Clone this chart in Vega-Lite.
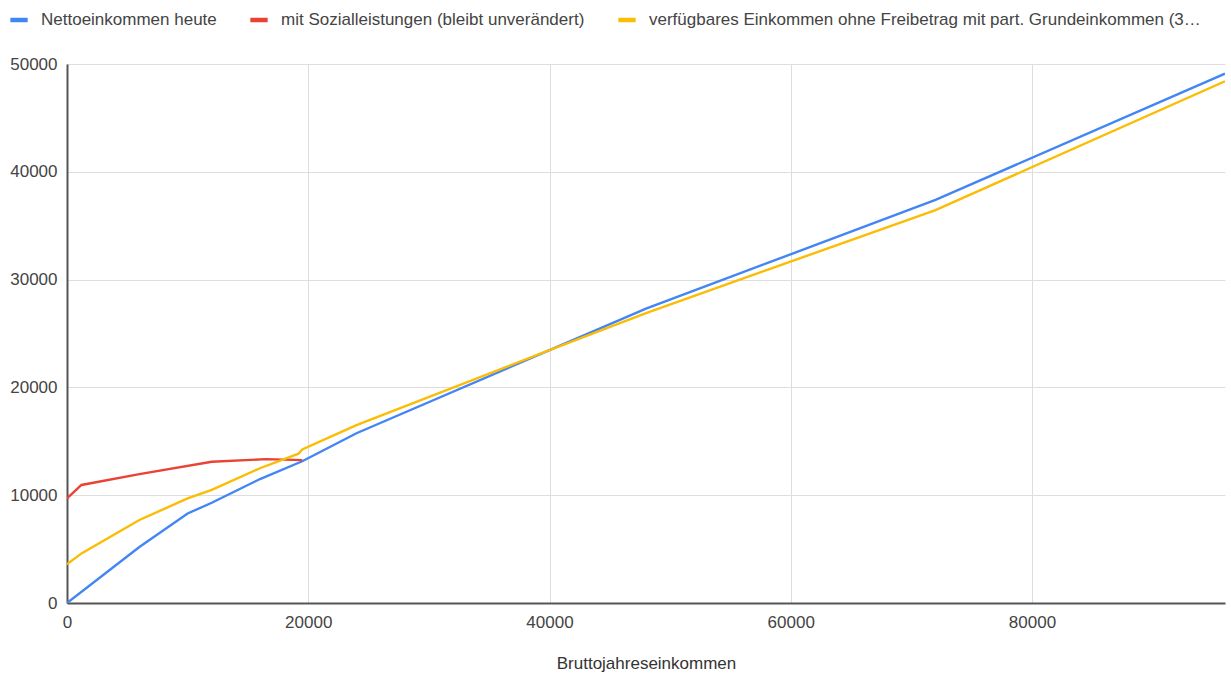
{
  "$schema": "https://vega.github.io/schema/vega-lite/v6.json",
  "autosize": "none",
  "width": 1158,
  "height": 539,
  "padding": {"left": 67, "top": 64, "right": 6, "bottom": 76},
  "background": "white",
  "config": {
    "view": {"stroke": null},
    "font": "Liberation Sans",
    "axis": {"labelFont": "Liberation Sans", "titleFont": "Liberation Sans", "labelFontSize": 17, "labelColor": "#444444", "titleColor": "#333333", "titleFontWeight": "normal", "titleFontSize": 17, "gridColor": "#dddddd", "gridWidth": 1}
  },
  "data": {
    "values": [
      {"x": 0, "y": 0, "s": "Nettoeinkommen heute"},
      {"x": 6000, "y": 5200, "s": "Nettoeinkommen heute"},
      {"x": 10000, "y": 8300, "s": "Nettoeinkommen heute"},
      {"x": 12000, "y": 9300, "s": "Nettoeinkommen heute"},
      {"x": 16000, "y": 11500, "s": "Nettoeinkommen heute"},
      {"x": 19500, "y": 13150, "s": "Nettoeinkommen heute"},
      {"x": 24000, "y": 15750, "s": "Nettoeinkommen heute"},
      {"x": 40000, "y": 23450, "s": "Nettoeinkommen heute"},
      {"x": 48000, "y": 27300, "s": "Nettoeinkommen heute"},
      {"x": 72000, "y": 37400, "s": "Nettoeinkommen heute"},
      {"x": 96000, "y": 49100, "s": "Nettoeinkommen heute"},
      {"x": 0, "y": 9700, "s": "mit Sozialleistungen (bleibt unverändert)"},
      {"x": 1200, "y": 10950, "s": "mit Sozialleistungen (bleibt unverändert)"},
      {"x": 6000, "y": 11950, "s": "mit Sozialleistungen (bleibt unverändert)"},
      {"x": 12000, "y": 13100, "s": "mit Sozialleistungen (bleibt unverändert)"},
      {"x": 16500, "y": 13350, "s": "mit Sozialleistungen (bleibt unverändert)"},
      {"x": 19500, "y": 13250, "s": "mit Sozialleistungen (bleibt unverändert)"},
      {"x": 0, "y": 3600, "s": "verfügbares Einkommen  ohne Freibetrag mit part. Grundeinkommen (3…"},
      {"x": 1200, "y": 4600, "s": "verfügbares Einkommen  ohne Freibetrag mit part. Grundeinkommen (3…"},
      {"x": 6000, "y": 7700, "s": "verfügbares Einkommen  ohne Freibetrag mit part. Grundeinkommen (3…"},
      {"x": 10000, "y": 9700, "s": "verfügbares Einkommen  ohne Freibetrag mit part. Grundeinkommen (3…"},
      {"x": 12000, "y": 10500, "s": "verfügbares Einkommen  ohne Freibetrag mit part. Grundeinkommen (3…"},
      {"x": 16000, "y": 12500, "s": "verfügbares Einkommen  ohne Freibetrag mit part. Grundeinkommen (3…"},
      {"x": 19200, "y": 13850, "s": "verfügbares Einkommen  ohne Freibetrag mit part. Grundeinkommen (3…"},
      {"x": 19500, "y": 14250, "s": "verfügbares Einkommen  ohne Freibetrag mit part. Grundeinkommen (3…"},
      {"x": 24000, "y": 16500, "s": "verfügbares Einkommen  ohne Freibetrag mit part. Grundeinkommen (3…"},
      {"x": 40000, "y": 23450, "s": "verfügbares Einkommen  ohne Freibetrag mit part. Grundeinkommen (3…"},
      {"x": 48000, "y": 26900, "s": "verfügbares Einkommen  ohne Freibetrag mit part. Grundeinkommen (3…"},
      {"x": 72000, "y": 36450, "s": "verfügbares Einkommen  ohne Freibetrag mit part. Grundeinkommen (3…"},
      {"x": 96000, "y": 48400, "s": "verfügbares Einkommen  ohne Freibetrag mit part. Grundeinkommen (3…"}
    ]
  },
  "layer": [
    {
      "mark": {"type": "line", "strokeWidth": 2.4, "clip": true},
      "encoding": {
        "x": {"field": "x", "type": "quantitative", "title": "Bruttojahreseinkommen",
          "scale": {"domain": [0, 96000], "nice": false},
          "axis": {"values": [0, 20000, 40000, 60000, 80000], "format": "d", "domainColor": "#555555", "domainWidth": 2, "ticks": false, "labelPadding": 11, "titlePadding": 25, "labelFlush": false}},
        "y": {"field": "y", "type": "quantitative", "title": null,
          "scale": {"domain": [0, 50000], "nice": false},
          "axis": {"values": [0, 10000, 20000, 30000, 40000, 50000], "format": "d", "domainColor": "#555555", "domainWidth": 2, "ticks": false, "labelPadding": 10}},
        "color": {"field": "s", "type": "nominal",
          "scale": {"domain": ["Nettoeinkommen heute", "mit Sozialleistungen (bleibt unverändert)", "verfügbares Einkommen  ohne Freibetrag mit part. Grundeinkommen (3…"], "range": ["#4285F4", "#EA4335", "#FBBC04"]},
          "legend": {"title": null, "orient": "none", "legendX": -59, "legendY": -55, "direction": "horizontal", "symbolType": "stroke", "symbolSize": 300, "symbolStrokeWidth": 4.5, "labelFontSize": 17, "labelFont": "Liberation Sans", "labelColor": "#444444", "labelLimit": 800, "labelOffset": 11, "columnPadding": 24}}
      }
    }
  ]
}
